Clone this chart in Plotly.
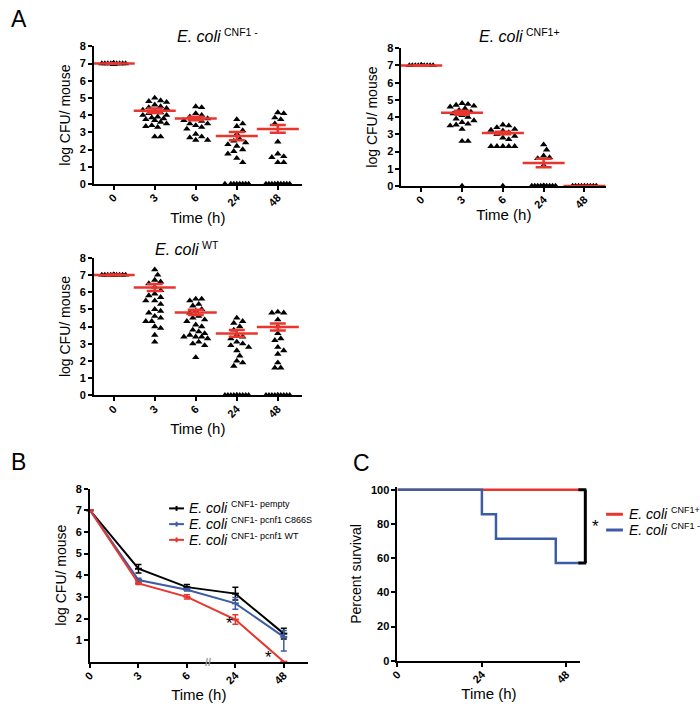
import plotly.graph_objects as go

W, H = 700, 712
FONT = "Liberation Sans"
RED = "#e8352d"
BLUE = "#3d5ca6"

# ---------------- data ----------------
times_A = ["0", "3", "6", "24", "48"]

cnf1_neg_groups = [
    [7.0, 7.0, 7.0, 7.0, 7.0, 7.0, 7.0, 7.0, 7.0, 7.0, 7.0, 7.0, 7.0, 7.0, 7.0, 7.0],
    [5.0, 4.85, 4.8, 4.75, 4.6, 4.5, 4.45, 4.4, 4.3, 4.2, 4.15, 4.1, 4.0, 4.0, 3.9, 3.85,
     3.8, 3.75, 3.7, 3.6, 3.5, 3.4, 3.35, 3.3, 2.75, 2.75],
    [4.5, 4.45, 4.1, 4.0, 3.9, 3.8, 3.75, 3.7, 3.65, 3.5, 3.5, 3.4, 3.3, 3.2, 2.9, 2.75,
     2.7, 2.55, 2.55],
    [3.75, 3.5, 3.35, 3.1, 2.9, 2.6, 2.5, 2.4, 2.3, 2.2, 2.0, 1.9, 1.75, 1.5, 1.25,
     0, 0, 0, 0, 0, 0, 0, 0],
    [4.15, 4.1, 3.85, 3.75, 3.5, 2.45, 1.75, 1.6, 1.55, 1.25, 1.25,
     0, 0, 0, 0, 0, 0, 0, 0, 0, 0],
]
cnf1_neg_mean = [7.0, 4.25, 3.8, 2.78, 3.2]
cnf1_neg_sem = [0.02, 0.13, 0.1, 0.24, 0.22]

cnf1_pos_groups = [
    [7.0, 7.0, 7.0, 7.0, 7.0, 7.0, 7.0, 7.0, 7.0, 7.0, 7.0, 7.0, 7.0, 7.0],
    [4.8, 4.75, 4.7, 4.65, 4.6, 4.5, 4.4, 4.3, 4.2, 4.1, 4.0, 3.9, 3.8, 3.7, 3.6, 3.55,
     3.5, 3.3, 2.6, 2.6, 0],
    [3.55, 3.5, 3.4, 3.3, 3.25, 3.2, 3.1, 3.0, 2.9, 2.8, 2.7, 2.3, 2.3, 2.3, 2.3, 2.3, 0],
    [2.4, 2.1, 1.75, 1.65, 1.6, 1.2, 0, 0, 0, 0, 0, 0, 0, 0, 0, 0, 0, 0],
    [0, 0, 0, 0, 0, 0, 0, 0, 0],
]
cnf1_pos_mean = [7.0, 4.25, 3.08, 1.33, 0.0]
cnf1_pos_sem = [0.02, 0.12, 0.07, 0.25, 0.0]

wt_groups = [
    [7.0, 7.0, 7.0, 7.0, 7.0, 7.0, 7.0, 7.0, 7.0, 7.0, 7.0, 7.0, 7.0, 7.0, 7.0, 7.0],
    [7.3, 7.0, 6.7, 6.6, 6.5, 6.3, 6.1, 5.9, 5.8, 5.7, 5.5, 5.5, 5.3, 5.0, 4.9, 4.8,
     4.6, 4.5, 4.3, 4.3, 4.0, 3.9, 3.5, 3.1],
    [5.6, 5.6, 5.5, 5.3, 5.2, 5.0, 4.9, 4.8, 4.6, 4.5, 4.4, 4.3, 4.1, 4.0, 3.8, 3.7,
     3.6, 3.5, 3.4, 3.4, 3.4, 3.3, 3.1, 3.0, 2.9, 2.2],
    [4.5, 4.3, 4.2, 4.0, 3.8, 3.5, 3.4, 3.3, 3.1, 3.0, 2.9, 2.8, 2.6, 2.3, 2.0, 1.9, 1.7,
     0, 0, 0, 0, 0, 0, 0, 0, 0, 0],
    [4.85, 4.8, 4.8, 4.4, 4.0, 3.6, 3.3, 3.2, 2.8, 2.6, 2.4, 1.9, 1.6, 1.6,
     0, 0, 0, 0, 0, 0, 0, 0, 0, 0],
]
wt_mean = [7.0, 6.27, 4.82, 3.6, 3.97]
wt_sem = [0.02, 0.2, 0.15, 0.2, 0.2]

# Panel B
times_B = ["0", "3", "6", "24", "48"]
pempty_mean = [7.0, 4.3, 3.45, 3.15, 1.3]
pempty_err = [0, 0.2, 0.12, 0.3, 0.25]
c866s_mean = [7.0, 3.78, 3.33, 2.7, 1.15]
c866s_err_up = [0, 0.08, 0.06, 0.27, 0.3]
c866s_err_dn = [0, 0.08, 0.06, 0.27, 0.65]
pcnf1wt_mean = [7.0, 3.62, 3.0, 1.95, 0.0]
pcnf1wt_err = [0, 0.05, 0.1, 0.22, 0]
names_B = ["CNF1- pempty", "CNF1- pcnf1 C866S", "CNF1- pcnf1 WT"]

# Panel C (Kaplan-Meier)
surv_pos_t = [0, 52]
surv_pos = [100, 100]
surv_neg_t = [0, 24, 28, 45, 52]
surv_neg = [100, 85.7, 71.4, 57.1, 57.1]
names_C = ["CNF1+", "CNF1 -"]


def fx(p):
    return p / W


def fy(p):
    return 1 - p / H


def swarm(vals, ppu_y, ppu_x, r=6.0, step=3.0, cap=12.0):
    """Deterministic beeswarm: horizontal offsets (data units) for a column."""
    placed = []
    offs = []
    cands = [0.0]
    k = 1
    while k * step <= cap + 1e-9:
        cands += [k * step, -k * step]
        k += 1
    for v in vals:
        y = v * ppu_y
        best, bestd = None, -1
        chosen = None
        for c in cands:
            d = min([((c - px) ** 2 + (y - py) ** 2) ** 0.5 for px, py in placed] or [1e9])
            if d >= r:
                chosen = c
                break
            if d > bestd:
                bestd, best = d, c
        if chosen is None:
            chosen = best
        placed.append((chosen, y))
        offs.append(chosen / ppu_x)
    return offs


def label(fig, sup, x_main, y_mid, size=16, sup_size=10, gap=4):
    """Italic 'E. coli' followed by a small superscript strain label."""
    fig.add_annotation(text="<i>E. coli</i>", x=fx(x_main), y=fy(y_mid), xref="paper",
                       yref="paper", xanchor="left", yanchor="middle", showarrow=False,
                       font=dict(family=FONT, size=size, color="black"))
    x_sup = x_main + 2.73 * size + gap
    fig.add_annotation(text=sup, x=fx(x_sup), y=fy(y_mid - size * 0.3), xref="paper",
                       yref="paper", xanchor="left", yanchor="middle", showarrow=False,
                       font=dict(family=FONT, size=sup_size, color="black"))


fig = go.Figure()

axis_common = dict(
    showline=True, linecolor="black", linewidth=2, ticks="outside", ticklen=4,
    tickwidth=2, tickcolor="black", showgrid=False, zeroline=False,
    tickfont=dict(family=FONT, size=11, color="black", weight="bold"),
)


def xtitle(standoff):
    return dict(text="Time (h)", font=dict(family=FONT, size=15, color="black"), standoff=standoff)


panelsA = [
    ("x", "y", cnf1_neg_groups, cnf1_neg_mean, cnf1_neg_sem, (87, 297), (41, 181), 41.5, -0.48, 4.58),
    ("x2", "y2", cnf1_pos_groups, cnf1_pos_mean, cnf1_pos_sem, (398, 605), (43, 183), 41.25, -0.485, 4.53),
    ("x3", "y3", wt_groups, wt_mean, wt_sem, (87, 297), (256, 396), 41.5, -0.48, 4.58),
]

for i, (xa, ya, groups, means, sems, xd, yd, ppux, r0, r1) in enumerate(panelsA):
    ppuy = (yd[1] - yd[0]) / 8.0
    xs, ys = [], []
    for gi, g in enumerate(groups):
        offs = swarm(g, ppuy, ppux)
        xs += [gi + o for o in offs]
        ys += list(g)
    fig.add_trace(go.Scatter(
        x=xs, y=ys, xaxis=xa, yaxis=ya, mode="markers", showlegend=False,
        marker=dict(symbol="triangle-up", size=6.5, color="black"), cliponaxis=False))
    fig.add_trace(go.Scatter(
        x=list(range(len(means))), y=means, xaxis=xa, yaxis=ya, mode="markers",
        showlegend=False, cliponaxis=False,
        marker=dict(symbol="line-ew", size=30, line=dict(color=RED, width=2.5)),
        error_y=dict(type="data", array=sems, width=8, thickness=2.5, color=RED)))
    sfx = "" if i == 0 else str(i + 1)
    fig.layout["xaxis" + sfx] = dict(
        axis_common, domain=[fx(xd[0]), fx(xd[1])], anchor=ya, range=[r0, r1],
        tickvals=list(range(5)), ticktext=times_A, tickangle=-45, ticklabelstandoff=-3,
        title=xtitle(0))
    fig.layout["yaxis" + sfx] = dict(
        axis_common, domain=[fy(yd[1]), fy(yd[0])], anchor=xa, range=[0, 8],
        tickvals=list(range(9)),
        title=dict(text="log CFU/ mouse", font=dict(family=FONT, size=14, color="black"), standoff=6))

# ---------------- Panel B ----------------
xB = list(range(5))
b_series = [
    (pempty_mean, pempty_err, pempty_err, "black"),
    (c866s_mean, c866s_err_up, c866s_err_dn, BLUE),
    (pcnf1wt_mean, pcnf1wt_err, pcnf1wt_err, RED),
]
for (m, eu, ed, col), nm in zip(b_series, names_B):
    fig.add_trace(go.Scatter(
        x=xB, y=m, xaxis="x4", yaxis="y4", mode="lines+markers", cliponaxis=False,
        name=nm, showlegend=False,
        line=dict(color=col, width=2), marker=dict(symbol="line-ew", size=5, line=dict(color=col, width=2)),
        error_y=dict(type="data", array=eu, arrayminus=ed, width=3, thickness=1.5, color=col)))

fig.layout.xaxis4 = dict(
    axis_common, domain=[fx(83), fx(303)], anchor="y4", range=[0, 4.49],
    tickvals=xB, ticktext=times_B, tickangle=-45, ticklabelstandoff=-3, title=xtitle(4))
fig.layout.yaxis4 = dict(
    axis_common, domain=[fy(667), fy(491)], anchor="x4", range=[0, 8],
    tickvals=list(range(1, 9)),
    title=dict(text="log CFU/ mouse", font=dict(family=FONT, size=14, color="black"), standoff=6))

# ---------------- Panel C ----------------
for t, s, col, nm in [(surv_pos_t, surv_pos, RED, names_C[0]), (surv_neg_t, surv_neg, BLUE, names_C[1])]:
    fig.add_trace(go.Scatter(
        x=t, y=s, xaxis="x5", yaxis="y5", mode="lines", line_shape="hv", name=nm,
        showlegend=False, line=dict(color=col, width=2.5), cliponaxis=False))
c_top = 100 + 1.5
fig.layout.xaxis5 = dict(
    axis_common, domain=[fx(394), fx(579)], anchor="y5", range=[0, 52],
    tickvals=[0, 24, 48], tickangle=-45, ticklabelstandoff=-3, title=xtitle(4))
fig.layout.yaxis5 = dict(
    axis_common, domain=[fy(666), fy(666 - 174 * c_top / 100)], anchor="x5", range=[0, c_top],
    tickvals=[0, 20, 40, 60, 80, 100],
    title=dict(text="Percent survival", font=dict(family=FONT, size=14, color="black"), standoff=6))

for sh in [
    dict(x0=fx(584), x1=fx(584), y0=surv_neg[-1], y1=surv_pos[-1]),
    dict(x0=fx(577), x1=fx(585), y0=surv_pos[-1], y1=surv_pos[-1]),
    dict(x0=fx(577), x1=fx(585), y0=surv_neg[-1], y1=surv_neg[-1]),
]:
    fig.add_shape(type="line", xref="paper", yref="y5", line=dict(color="black", width=3), **sh)

# ---------------- manual legends ----------------
legB_rows = [511, 527, 543]
for (m, eu, ed, col), nm, yy in zip(b_series, names_B, legB_rows):
    fig.add_shape(type="line", xref="paper", yref="paper", x0=fx(163), x1=fx(178),
                  y0=fy(yy), y1=fy(yy), line=dict(color=col, width=2))
    fig.add_shape(type="line", xref="paper", yref="paper", x0=fx(170.5), x1=fx(170.5),
                  y0=fy(yy - 2.5), y1=fy(yy + 2.5), line=dict(color=col, width=2))
    label(fig, nm, 181, yy, size=14, sup_size=9, gap=4)

legC_rows = [517, 533]
for col, nm, yy in zip([RED, BLUE], names_C, legC_rows):
    fig.add_shape(type="line", xref="paper", yref="paper", x0=fx(605), x1=fx(622),
                  y0=fy(yy), y1=fy(yy), line=dict(color=col, width=3))
    label(fig, nm, 626, yy, size=14, sup_size=9, gap=4)

label(fig, "CNF1 -", 169, 31, size=16, sup_size=10.5)
label(fig, "CNF1+", 474, 31, size=16, sup_size=10.5)
label(fig, "WT", 147, 248, size=16, sup_size=10.5)

annotations = [
    dict(text="A", x=fx(11), y=fy(13), xref="paper", yref="paper", font=dict(size=23)),
    dict(text="B", x=fx(11), y=fy(464), xref="paper", yref="paper", font=dict(size=23)),
    dict(text="C", x=fx(358), y=fy(465), xref="paper", yref="paper", font=dict(size=23)),
    dict(text="*", x=2.88, y=1.75, xref="x4", yref="y4", font=dict(size=17)),
    dict(text="*", x=3.69, y=0.2, xref="x4", yref="y4", font=dict(size=17)),
    dict(text="//", x=2.43, y=0, xref="x4", yref="y4", font=dict(size=11, color="#999999", weight="bold")),
    dict(text="*", x=fx(594), y=fy(529), xref="paper", yref="paper", font=dict(size=17)),
]
for a in annotations:
    a.setdefault("showarrow", False)
    a.setdefault("xanchor", "center")
    a.setdefault("yanchor", "middle")
    a["font"] = dict(dict(family=FONT, color="black"), **a["font"])
    fig.add_annotation(**a)

fig.update_layout(
    width=W, height=H, margin=dict(l=0, r=0, t=0, b=0),
    paper_bgcolor="white", plot_bgcolor="white",
    font=dict(family=FONT, color="black"),
    showlegend=False,
)

fig.write_html("out.html", config={"displayModeBar": False},
               post_script="document.body.style.margin='0';")
